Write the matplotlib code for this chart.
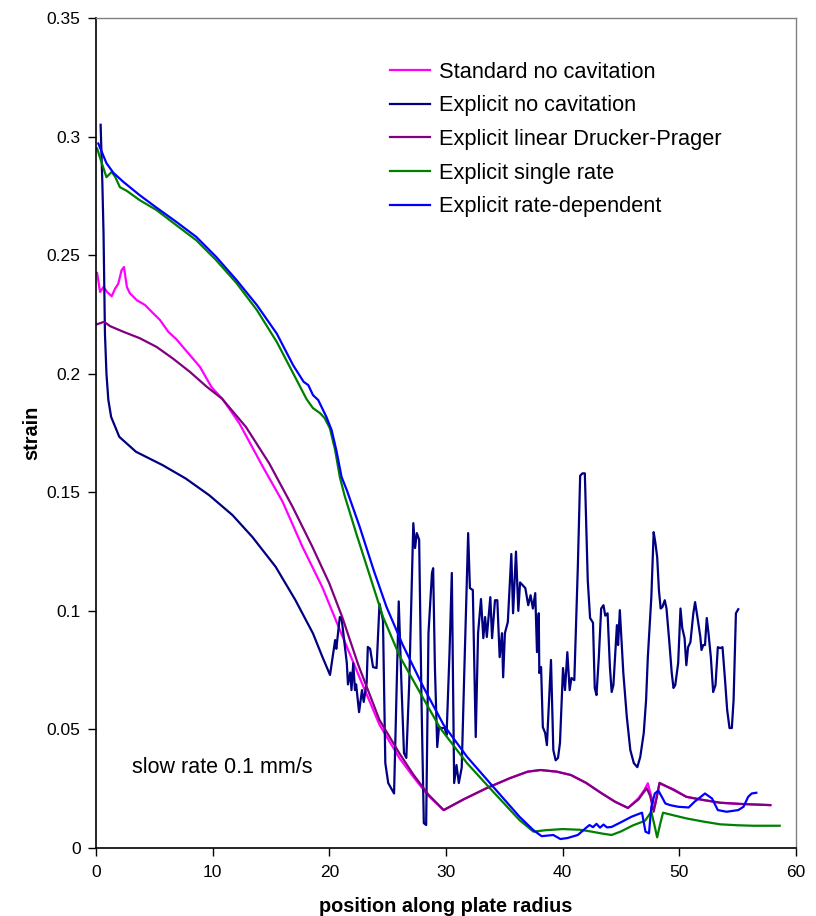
import matplotlib
matplotlib.use("Agg")
import matplotlib.pyplot as plt

# Strain along plate radius for the different cavitation models

std_x = [0.1, 0.35, 0.65, 0.95, 1.35, 1.65, 1.9, 2.2, 2.4, 2.65, 2.9, 3.5, 4.2, 4.8, 5.5,
         6.2, 6.9, 7.8, 8.9, 9.9, 10.9, 12.3, 14.3, 16.0, 17.7, 19.4, 20.9, 22.5, 24.3,
         26.0, 27.2, 28.5, 29.8, 31.5, 33.5, 35.5, 37.0, 38.1, 39.5, 40.7, 42.0, 43.3,
         44.5, 45.6, 46.5, 47.0, 47.3, 47.6, 47.9, 48.3, 49.5, 50.6, 52.0, 53.5, 55.2, 57.8]
std_y = [0.2425, 0.2345, 0.2366, 0.2345, 0.2327, 0.236, 0.2378, 0.2437, 0.245, 0.2366,
         0.234, 0.231, 0.229, 0.226, 0.2226, 0.2177, 0.2145, 0.2093, 0.203, 0.1944, 0.189,
         0.179, 0.1608, 0.146, 0.127, 0.110, 0.092, 0.073, 0.052, 0.038, 0.030, 0.022, 0.016,
         0.0205, 0.0253, 0.0295, 0.0322, 0.0329, 0.0322, 0.0308, 0.0275, 0.0232, 0.0195,
         0.0169, 0.021, 0.0245, 0.0273, 0.0216, 0.018, 0.0272, 0.0248, 0.0216, 0.0203,
         0.0191, 0.0186, 0.0181]

nocav_x = [0.4, 0.55, 0.65, 0.77, 0.9, 1.06, 1.3, 2.0, 3.43, 5.7, 7.7, 9.7, 11.7, 13.4,
           15.4, 17.1, 18.6, 19.4, 20.06, 20.5, 20.6, 20.9, 21.05, 21.5, 21.6, 21.8, 21.9,
           22.05, 22.2, 22.3, 22.55, 22.8, 22.95, 23.2, 23.3, 23.5, 23.75, 24.05, 24.3, 24.6,
           24.8, 25.05, 25.55, 25.8, 25.95, 26.2, 26.4, 26.6, 26.85, 27.2, 27.35, 27.5, 27.7,
           27.9, 28.1, 28.3, 28.5, 28.8, 28.9, 29.05, 29.25, 29.4, 29.6, 29.9, 30.05, 30.3,
           30.5, 30.7, 30.9, 31.1, 31.35, 31.55, 31.9, 32.05, 32.3, 32.55, 32.75, 33.0, 33.2,
           33.35, 33.5, 33.8, 33.95, 34.2, 34.4, 34.6, 34.8, 34.9, 35.05, 35.3, 35.6, 35.75,
           36.0, 36.2, 36.35, 36.8, 37.05, 37.25, 37.45, 37.65, 37.8, 37.95, 38.0, 38.15,
           38.3, 38.5, 38.65, 38.85, 39.0, 39.2, 39.4, 39.6, 39.77, 40.03, 40.2, 40.4, 40.6,
           40.75, 41.0, 41.3, 41.5, 41.7, 41.9, 42.15, 42.35, 42.6, 42.75, 42.9, 43.1, 43.3,
           43.5, 43.65, 43.85, 44.05, 44.2, 44.35, 44.65, 44.75, 44.9, 45.2, 45.5, 45.8,
           46.1, 46.4, 46.65, 46.95, 47.15, 47.3, 47.6, 47.8, 47.95, 48.1, 48.25, 48.4,
           48.55, 48.75, 48.9, 49.15, 49.35, 49.5, 49.65, 49.9, 50.1, 50.25, 50.45, 50.6,
           50.75, 50.95, 51.2, 51.35, 51.55, 51.8, 51.9, 52.05, 52.2, 52.35, 52.5, 52.7,
           52.9, 53.1, 53.3, 53.5, 53.7, 53.9, 54.1, 54.3, 54.5, 54.65, 54.85, 55.05]
nocav_y = [0.305, 0.28, 0.259, 0.217, 0.2, 0.189, 0.1818, 0.1734, 0.1671, 0.1615, 0.1558,
           0.1488, 0.1404, 0.1312, 0.1186, 0.1045, 0.0905, 0.0807, 0.073, 0.0877, 0.084,
           0.0974, 0.097, 0.078, 0.069, 0.074, 0.0666, 0.078, 0.0666, 0.069, 0.0573, 0.0666,
           0.0616, 0.0696, 0.0848, 0.084, 0.0763, 0.0759, 0.103, 0.096, 0.0358, 0.0274,
           0.023, 0.0738, 0.104, 0.0666, 0.040, 0.038, 0.0696, 0.137, 0.1265, 0.1328, 0.13,
           0.0624, 0.0105, 0.0097, 0.0906, 0.116, 0.118, 0.0763, 0.0426, 0.051, 0.0506,
           0.0506, 0.0476, 0.082, 0.116, 0.0274, 0.035, 0.0274, 0.034, 0.0708, 0.1328,
           0.1096, 0.1088, 0.0468, 0.0906, 0.105, 0.0885, 0.0974, 0.089, 0.1058, 0.0885,
           0.1045, 0.1045, 0.0805, 0.0906, 0.072, 0.0906, 0.0953, 0.124, 0.099, 0.125, 0.100,
           0.112, 0.1096, 0.1024, 0.1066, 0.101, 0.1075, 0.0826, 0.099, 0.0738, 0.0763,
           0.051, 0.0485, 0.0434, 0.0637, 0.0793, 0.0413, 0.037, 0.038, 0.0443, 0.0759,
           0.0666, 0.0826, 0.0666, 0.0717, 0.0708, 0.1185, 0.157, 0.158, 0.158, 0.113, 0.097,
           0.095, 0.0675, 0.0645, 0.0805, 0.101, 0.1024, 0.098, 0.099, 0.0763, 0.0658,
           0.0687, 0.094, 0.0856, 0.1003, 0.0738, 0.0552, 0.0413, 0.0358, 0.0341, 0.0384,
           0.0485, 0.0624, 0.0805, 0.1058, 0.1332, 0.1286, 0.1227, 0.1088, 0.101, 0.1016,
           0.1045, 0.101, 0.0864, 0.0738, 0.0675, 0.0687, 0.078, 0.101, 0.0928, 0.0885,
           0.0771, 0.0847, 0.0868, 0.099, 0.1037, 0.0974, 0.089, 0.0835, 0.0856, 0.0856,
           0.097, 0.0906, 0.0805, 0.0658, 0.0687, 0.0847, 0.0843, 0.0847, 0.072, 0.0582,
           0.0506, 0.0506, 0.0624, 0.099, 0.1007]

dp_x = [0.1, 0.7, 1.2, 2.35, 3.75, 5.2, 6.6, 8.05, 9.5, 10.8, 12.85, 14.85, 16.85, 18.55,
        20.0, 21.1, 22.5, 24.3, 26.0, 27.2, 28.5, 29.8, 31.5, 33.5, 35.5, 37.0, 38.1, 39.5,
        40.7, 42.0, 43.3, 44.5, 45.6, 46.5, 47.2, 47.5, 47.8, 48.05, 48.3, 49.5, 50.6, 52.0,
        53.5, 55.2, 57.8]
dp_y = [0.2209, 0.2219, 0.2201, 0.2177, 0.215, 0.2113, 0.2064, 0.2008, 0.1945, 0.1895,
        0.1776, 0.1622, 0.1439, 0.127, 0.1116, 0.0975, 0.077, 0.054, 0.040, 0.031, 0.0225,
        0.016, 0.0205, 0.0253, 0.0295, 0.0322, 0.0329, 0.0322, 0.0308, 0.0275, 0.0232,
        0.0195, 0.0169, 0.0205, 0.0252, 0.022, 0.0153, 0.021, 0.0275, 0.0245, 0.0216,
        0.0203, 0.0191, 0.0186, 0.0181]

single_x = [0.1, 0.5, 0.9, 1.35, 1.65, 2.05, 2.65, 3.75, 5.2, 6.9, 8.6, 10.3, 12.05, 13.8,
            15.5, 16.9, 18.05, 18.6, 19.2, 19.6, 20.05, 20.5, 20.9, 21.3, 22.3, 23.5, 24.6,
            26.05, 27.8, 29.5, 31.8, 34.05, 36.3, 37.5, 38.5, 40.0, 41.5, 42.5, 43.5, 44.2,
            45.0, 46.0, 47.06, 47.6, 47.85, 48.1, 48.35, 48.6, 49.5, 50.6, 52.0, 53.5, 55.0,
            56.3, 58.6]
single_y = [0.295, 0.2888, 0.2829, 0.2851, 0.283, 0.2787, 0.2771, 0.2732, 0.269, 0.2626,
            0.2563, 0.2479, 0.2382, 0.2268, 0.2134, 0.2002, 0.1893, 0.1855, 0.1834, 0.1813,
            0.177, 0.1678, 0.1565, 0.1488, 0.1328, 0.1144, 0.0975, 0.0807, 0.0653, 0.0506,
            0.0358, 0.0237, 0.0118, 0.0069, 0.0075, 0.008, 0.0077, 0.0069, 0.006, 0.0055,
            0.007, 0.0095, 0.0115, 0.0153, 0.01, 0.0045, 0.01, 0.0149, 0.0138, 0.0125,
            0.0112, 0.01, 0.0096, 0.0094, 0.0094]

rate_x = [0.2, 0.9, 1.5, 2.35, 3.75, 5.2, 6.9, 8.6, 10.3, 12.05, 13.8, 15.5, 16.9, 17.8,
          18.2, 18.6, 19.05, 19.75, 20.2, 20.6, 21.05, 21.5, 22.6, 23.8, 24.9, 26.3, 28.05,
          29.8, 31.8, 34.05, 36.3, 37.5, 38.2, 39.2, 39.8, 40.4, 41.3, 42.0, 42.3, 42.6, 42.9,
          43.2, 43.5, 43.8, 44.2, 45.05, 45.9, 46.8, 47.1, 47.4, 47.6, 47.9, 48.2, 48.5, 48.8,
          49.2, 49.9, 50.8, 51.3, 52.2, 52.8, 53.3, 54.05, 55.05, 55.5, 55.9, 56.2, 56.6]
rate_y = [0.2971, 0.2888, 0.2847, 0.2809, 0.2753, 0.27, 0.264, 0.2577, 0.2493, 0.2395,
          0.2289, 0.2169, 0.2036, 0.1966, 0.1952, 0.191, 0.1889, 0.1818, 0.1762, 0.1678,
          0.1565, 0.1509, 0.1355, 0.1172, 0.1017, 0.0856, 0.068, 0.0519, 0.0385, 0.0258,
          0.0132, 0.0075, 0.005, 0.0055, 0.0038, 0.0042, 0.0055, 0.0085, 0.0097, 0.0088,
          0.0102, 0.0086, 0.0099, 0.0087, 0.0089, 0.011, 0.0132, 0.0149, 0.0069, 0.0062,
          0.0174, 0.023, 0.0242, 0.0216, 0.0188, 0.0181, 0.0174, 0.0171, 0.0195, 0.023,
          0.0209, 0.016, 0.0153, 0.016, 0.0174, 0.0216, 0.023, 0.0233]

series = [
    ("Standard no cavitation", std_x, std_y, "#FF00FF"),
    ("Explicit no cavitation", nocav_x, nocav_y, "#000080"),
    ("Explicit linear Drucker-Prager", dp_x, dp_y, "#800080"),
    ("Explicit single rate", single_x, single_y, "#008000"),
    ("Explicit rate-dependent", rate_x, rate_y, "#0000FF"),
]

TEXT_FONT = ["Liberation Sans", "DejaVu Sans"]

fig = plt.figure(figsize=(8.16, 9.16), dpi=100)
ax = fig.add_axes([0.1176, 0.0742, 0.8579, 0.9061])

for label, xs, ys, color in series:
    ax.plot(xs, ys, color=color, lw=1.6, label=label)

ax.set_xlim(0, 60)
ax.set_ylim(0, 0.35)
ax.set_xticks(range(0, 61, 10))
ax.set_yticks([0, 0.05, 0.1, 0.15, 0.2, 0.25, 0.3, 0.35])
ax.set_yticklabels(["0", "0.05", "0.1", "0.15", "0.2", "0.25", "0.3", "0.35"])

for lab in ax.get_xticklabels() + ax.get_yticklabels():
    lab.set_family(TEXT_FONT)
    lab.set_fontsize(12.5)

ax.tick_params(axis="both", direction="out", length=6, width=1, color="black")
ax.tick_params(axis="x", pad=6.5)
ax.tick_params(axis="y", pad=5)

for side in ["left", "bottom"]:
    ax.spines[side].set_color("black")
    ax.spines[side].set_linewidth(1.2)
for side in ["top", "right"]:
    ax.spines[side].set_color("#808080")
    ax.spines[side].set_linewidth(1.0)

ax.set_xlabel("position along plate radius", family=TEXT_FONT, fontweight="bold",
              fontsize=14.3, labelpad=12)
ax.set_ylabel("strain", family=TEXT_FONT, fontweight="bold", fontsize=14.3, labelpad=4)

ax.text(3.1, 0.034, "slow rate 0.1 mm/s", family=TEXT_FONT, fontsize=15.5,
        va="center", ha="left")

ax.legend(loc="upper left", bbox_to_anchor=(0.408, 0.958), frameon=False,
          prop={"family": TEXT_FONT, "size": 15.7}, handlelength=1.8,
          handletextpad=0.45, labelspacing=0.58, borderaxespad=0)

fig.savefig("out.png", dpi=100)
